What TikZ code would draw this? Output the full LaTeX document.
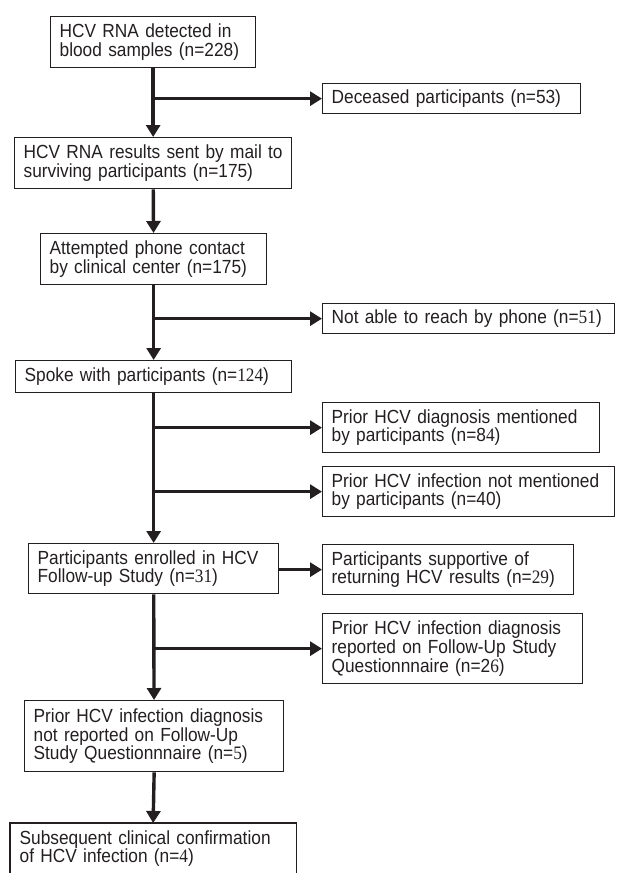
\documentclass[tikz,border=0pt]{standalone}
\usepackage{fontspec}
\setmainfont{Liberation Sans}[FakeStretch=0.91]
\newfontfamily\serdig{Liberation Serif}[FakeStretch=0.91]
\newcommand{\sd}[1]{{\serdig #1}}
\newcommand{\tl}[1]{\mbox{#1}}
\usetikzlibrary{arrows.meta}
\definecolor{ink}{HTML}{231F20}
\tikzset{
  box/.style n args={2}{draw=ink, line width=1.3pt, anchor=north west, inner xsep=9pt, inner ysep=0pt,
    align=left, text width=#1pt-18pt, minimum height=#2pt, font=\fontsize{19}{18.6}\selectfont, text=ink},
  flow/.style={draw=ink, line width=3.4pt, -{Triangle[length=12pt,width=14pt]}},
}
\begin{document}
\begin{tikzpicture}[x=1pt,y=-1pt]
\useasboundingbox (0,0) rectangle (617,873);
\node[box={205}{51}] (A) at (50,16) {\tl{HCV RNA detected in}\\\tl{blood samples (n=228)}};
\node[box={258}{30}] (D) at (322,83) {\tl{Deceased participants (n=53)}};
\node[box={277}{51}] (B) at (14,137) {\tl{HCV RNA results sent by mail to}\\\tl{surviving participants (n=175)}};
\node[box={226}{51}] (C) at (40,233) {\tl{Attempted phone contact}\\\tl{by clinical center (n=175)}};
\node[box={292}{30}] (N) at (322,303) {\tl{Not able to reach by phone (n=\sd{51})}};
\node[box={276}{32}] (S) at (15,360) {\tl{Spoke with participants (n=\sd{124})}};
\node[box={277}{50}] (P1) at (322,402) {\tl{Prior HCV diagnosis mentioned}\\\tl{by participants (n=8\sd{4})}};
\node[box={292}{50}] (P2) at (322,466) {\tl{Prior HCV infection not mentioned}\\\tl{by participants (n=40)}};
\node[box={250}{50}] (E) at (28,543) {\tl{Participants enrolled in HCV}\\\tl{Follow-up Study (n=\sd{31})}};
\node[box={251}{50}] (SU) at (322,544) {\tl{Participants supportive of}\\\tl{returning HCV results (n=\sd{29})}};
\node[box={260}{70}] (R) at (322,613) {\tl{Prior HCV infection diagnosis}\\\tl{reported on Follow-Up Study}\\\tl{Questionnnaire (n=2\sd{6})}};
\node[box={259}{71}] (NR) at (24,700) {\tl{Prior HCV infection diagnosis}\\\tl{not reported on Follow-Up}\\\tl{Study Questionnnaire (n=\sd{5})}};
\node[box={285}{50}, draw=none] (F) at (10,823) {\tl{Subsequent clinical confirmation}\\\tl{of HCV infection (n=\sd{4})}};
\draw[draw=ink, line width=1.3pt] (F.north west |- 0,880) -- (F.north west) -- (F.north east) -- (F.north east |- 0,880);
% trunk
\draw[flow] (A) -- (B);
\draw[flow] (B) -- (C);
\draw[flow] (C) -- (S);
\draw[flow] (S) -- (E);
\draw[flow] (E) -- (NR);
\draw[flow] (NR.south) -- (F.north);
% branches
\draw[flow] (A.south |- D.west) -- (D.west);
\draw[flow] (C.south |- N.west) -- (N.west);
\draw[flow] (S.south |- P1.west) -- (P1.west);
\draw[flow] (S.south |- P2.west) -- (P2.west);
\draw[flow] (E.east |- SU.west) -- (SU.west);
\draw[flow] (E.south |- R.west) -- (R.west);
\end{tikzpicture}
\end{document}
